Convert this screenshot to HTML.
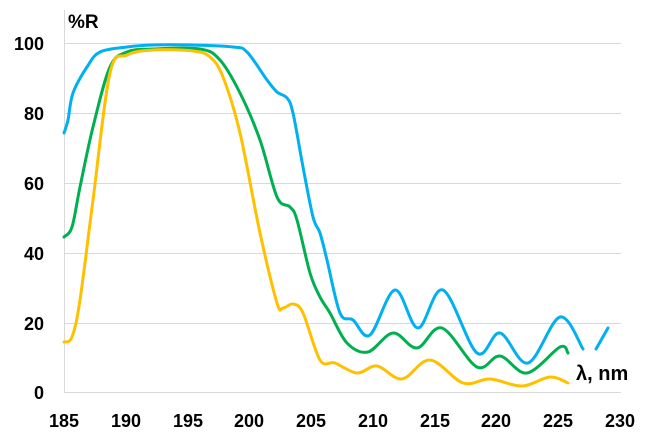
<!DOCTYPE html>
<html><head><meta charset="utf-8"><style>
html,body{margin:0;padding:0;background:#fff;}
svg{display:block;font-family:"Liberation Sans",Arial,sans-serif;font-weight:bold;}
</style></head><body>
<svg id="s" width="651" height="438" viewBox="0 0 651 438">
<g stroke="#d9d9d9" stroke-width="1">
<line x1="64" y1="43.5" x2="621" y2="43.5"/>
<line x1="64" y1="113.5" x2="621" y2="113.5"/>
<line x1="64" y1="183.5" x2="621" y2="183.5"/>
<line x1="64" y1="253.5" x2="621" y2="253.5"/>
<line x1="64" y1="323.5" x2="621" y2="323.5"/>
<line x1="64" y1="392.5" x2="621" y2="392.5"/>
<line x1="64.5" y1="10" x2="64.5" y2="393"/>
</g>
<g font-size="18" fill="#000" text-anchor="end">
<text x="44" y="50">100</text>
<text x="44" y="120">80</text>
<text x="44" y="190">60</text>
<text x="44" y="260">40</text>
<text x="44" y="330">20</text>
<text x="44" y="399">0</text>
</g>
<g font-size="18" fill="#000" text-anchor="middle">
<text x="64" y="427">185</text>
<text x="126" y="427">190</text>
<text x="188" y="427">195</text>
<text x="249" y="427">200</text>
<text x="311" y="427">205</text>
<text x="373" y="427">210</text>
<text x="435" y="427">215</text>
<text x="496" y="427">220</text>
<text x="558" y="427">225</text>
<text x="620" y="427">230</text>
</g>
<text x="68" y="28" font-size="19">%R</text>
<g fill="none" stroke-width="3" stroke-linecap="round" stroke-linejoin="round">
<path id="b1" stroke="#00b0f0"/>
<path id="b2" stroke="#00b0f0"/>
<path id="g" stroke="#00b050"/>
<path id="y" stroke="#ffc000"/>
</g>
<text x="576" y="380" font-size="20">λ, nm</text>
</svg>
<script>
function cr(p){var d="M"+p[0][0]+","+p[0][1];for(var i=0;i<p.length-1;i++){var p0=p[i-1]||p[i],p1=p[i],p2=p[i+1],p3=p[i+2]||p2;
d+=" C"+(p1[0]+(p2[0]-p0[0])/6).toFixed(1)+","+(p1[1]+(p2[1]-p0[1])/6).toFixed(1)+" "+(p2[0]-(p3[0]-p1[0])/6).toFixed(1)+","+(p2[1]-(p3[1]-p1[1])/6).toFixed(1)+" "+p2[0]+","+p2[1];}return d;}
var B1=[[64,133],[68,120],[73,93],[87,67],[100,52],[127,47],[153,45],[190,45],[233,47],[247,52],[267,80],[277,92],[287,98],[293,113],[303,167],[313,217],[320,233],[327,260],[340,313],[353,320],[370,335],[395,290],[418,328],[443,290],[477,353],[500,333],[528,363],[560,317],[583,349]];
var B2=[[596,349],[608,328]];
var G=[[64,237],[72,227],[80,187],[93,127],[110,67],[127,52],[153,49],[200,49],[220,60],[240,93],[260,140],[277,197],[290,207],[297,220],[310,273],[320,297],[330,313],[347,343],[368,352],[393,333],[417,348],[442,328],[477,367],[500,356],[527,373],[560,347],[568,353]];
var Y=[[64,342],[72,337],[80,300],[93,200],[110,73],[127,55],[153,50],[193,51],[210,57],[223,77],[240,133],[260,233],[277,303],[283,308],[293,304],[303,313],[320,360],[335,363],[357,373],[377,366],[402,379],[430,360],[463,383],[490,379],[522,386],[550,377],[568,383]];
document.getElementById("b1").setAttribute("d",cr(B1));
document.getElementById("b2").setAttribute("d",cr(B2));
document.getElementById("g").setAttribute("d",cr(G));
document.getElementById("y").setAttribute("d",cr(Y));
</script>
</body></html>
